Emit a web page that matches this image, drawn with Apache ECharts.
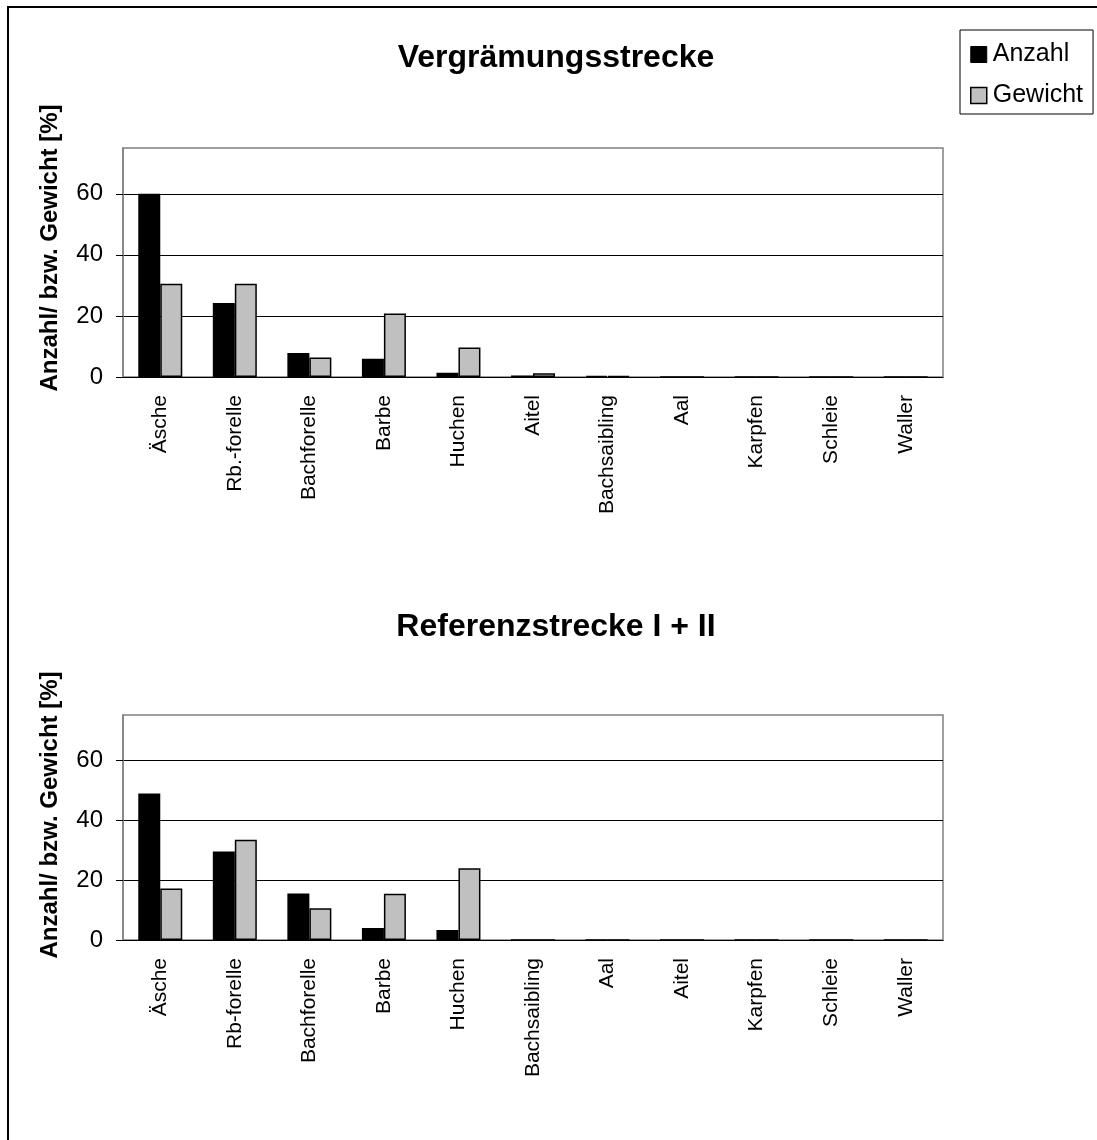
<!DOCTYPE html>
<html>
<head>
<meta charset="utf-8">
<script src="https://cdn.jsdelivr.net/npm/echarts@6/dist/echarts.min.js"></script>
<style>
  html, body { margin: 0; padding: 0; background: #fff; }
  #chart { width: 1097px; height: 1140px; }
</style>
</head>
<body>
<div id="chart"></div>
<script>
// Daten oben: Vergrämungsstrecke
const catsTop = ['Äsche', 'Rb.-forelle', 'Bachforelle', 'Barbe', 'Huchen', 'Aitel', 'Bachsaibling', 'Aal', 'Karpfen', 'Schleie', 'Waller'];
const anzahlTop = [60, 24.2, 7.9, 6.0, 1.4, 0.5, 0.4, 0, 0, 0, 0];
const gewichtTop = [30.5, 30.5, 6.4, 20.8, 9.7, 1.2, 0.3, 0, 0, 0, 0];

// Daten unten: Referenzstrecke I + II
const catsBottom = ['Äsche', 'Rb-forelle', 'Bachforelle', 'Barbe', 'Huchen', 'Bachsaibling', 'Aal', 'Aitel', 'Karpfen', 'Schleie', 'Waller'];
const anzahlBottom = [48.8, 29.5, 15.5, 4.0, 3.3, 0, 0, 0, 0, 0, 0];
const gewichtBottom = [17.2, 33.4, 10.6, 15.4, 23.9, 0, 0, 0, 0, 0, 0];

const titles = ['Vergrämungsstrecke', 'Referenzstrecke I + II'];
const yName = 'Anzahl/ bzw. Gewicht [%]';

const FONT = 'Arial, "Liberation Sans", sans-serif';

function xAxis(idx, cats) {
  return {
    type: 'category',
    gridIndex: idx,
    data: cats,
    axisLine: { lineStyle: { color: '#000', width: 1 } },
    axisTick: { length: 7, lineStyle: { color: '#000' } },
    axisLabel: { rotate: 90, interval: 0, fontSize: 21, color: '#000', fontFamily: FONT, margin: 18 }
  };
}

function yAxis(idx) {
  return {
    type: 'value',
    gridIndex: idx,
    min: 0,
    max: 75,
    interval: 20,
    axisLine: { show: true, lineStyle: { color: '#808080', width: 1.5 } },
    axisTick: { show: true, length: 7, lineStyle: { color: '#000' } },
    axisLabel: { fontSize: 24, color: '#000', fontFamily: FONT, margin: 20, showMaxLabel: false },
    splitLine: { show: true, showMaxLine: false, lineStyle: { color: '#000', width: 1 } }
  };
}

function bars(name, idx, data, color) {
  return {
    name: name,
    type: 'bar',
    xAxisIndex: idx,
    yAxisIndex: idx,
    data: data,
    barWidth: 22,
    barGap: '0%',
    itemStyle: { color: color, borderColor: '#000', borderWidth: 1.5 }
  };
}

const chart = echarts.init(document.getElementById('chart'));
chart.setOption({
  animation: false,
  backgroundColor: '#fff',
  textStyle: { fontFamily: FONT },
  title: [
    { text: titles[0], left: 551, top: 37, textAlign: 'center',
      textStyle: { fontSize: 32, fontWeight: 'bold', color: '#000', fontFamily: FONT } },
    { text: titles[1], left: 551, top: 606, textAlign: 'center',
      textStyle: { fontSize: 32, fontWeight: 'bold', color: '#000', fontFamily: FONT } }
  ],
  legend: {
    orient: 'vertical',
    left: 960,
    top: 30,
    padding: [12, 10, 6, 10],
    itemWidth: 16,
    itemHeight: 16,
    itemGap: 16,
    icon: 'rect',
    borderColor: '#000',
    borderWidth: 1,
    textStyle: { fontSize: 25, color: '#000', fontFamily: FONT, padding: [0, 0, 0, 1] },
    data: [
      { name: 'Anzahl', itemStyle: { color: '#000', borderColor: '#000', borderWidth: 1 } },
      { name: 'Gewicht', itemStyle: { color: '#c0c0c0', borderColor: '#000', borderWidth: 1.5 } }
    ]
  },
  grid: [
    { left: 123, top: 148, width: 820, height: 229, show: true, borderColor: '#808080', borderWidth: 1.5 },
    { left: 123, top: 715, width: 820, height: 225, show: true, borderColor: '#808080', borderWidth: 1.5 }
  ],
  xAxis: [xAxis(0, catsTop), xAxis(1, catsBottom)],
  yAxis: [yAxis(0), yAxis(1)],
  series: [
    bars('Anzahl', 0, anzahlTop, '#000'),
    bars('Gewicht', 0, gewichtTop, '#c0c0c0'),
    bars('Anzahl', 1, anzahlBottom, '#000'),
    bars('Gewicht', 1, gewichtBottom, '#c0c0c0')
  ],
  graphic: [
    { type: 'rect', shape: { x: 8, y: 7, width: 1120, height: 1160 }, style: { fill: null, stroke: '#000', lineWidth: 2 }, silent: true },
    { type: 'text', x: 50, y: 248, rotation: Math.PI / 2,
      style: { text: yName, font: 'bold 24px ' + FONT, fill: '#000', align: 'center', verticalAlign: 'middle' } },
    { type: 'text', x: 50, y: 815, rotation: Math.PI / 2,
      style: { text: yName, font: 'bold 24px ' + FONT, fill: '#000', align: 'center', verticalAlign: 'middle' } }
  ]
});
</script>
</body>
</html>
